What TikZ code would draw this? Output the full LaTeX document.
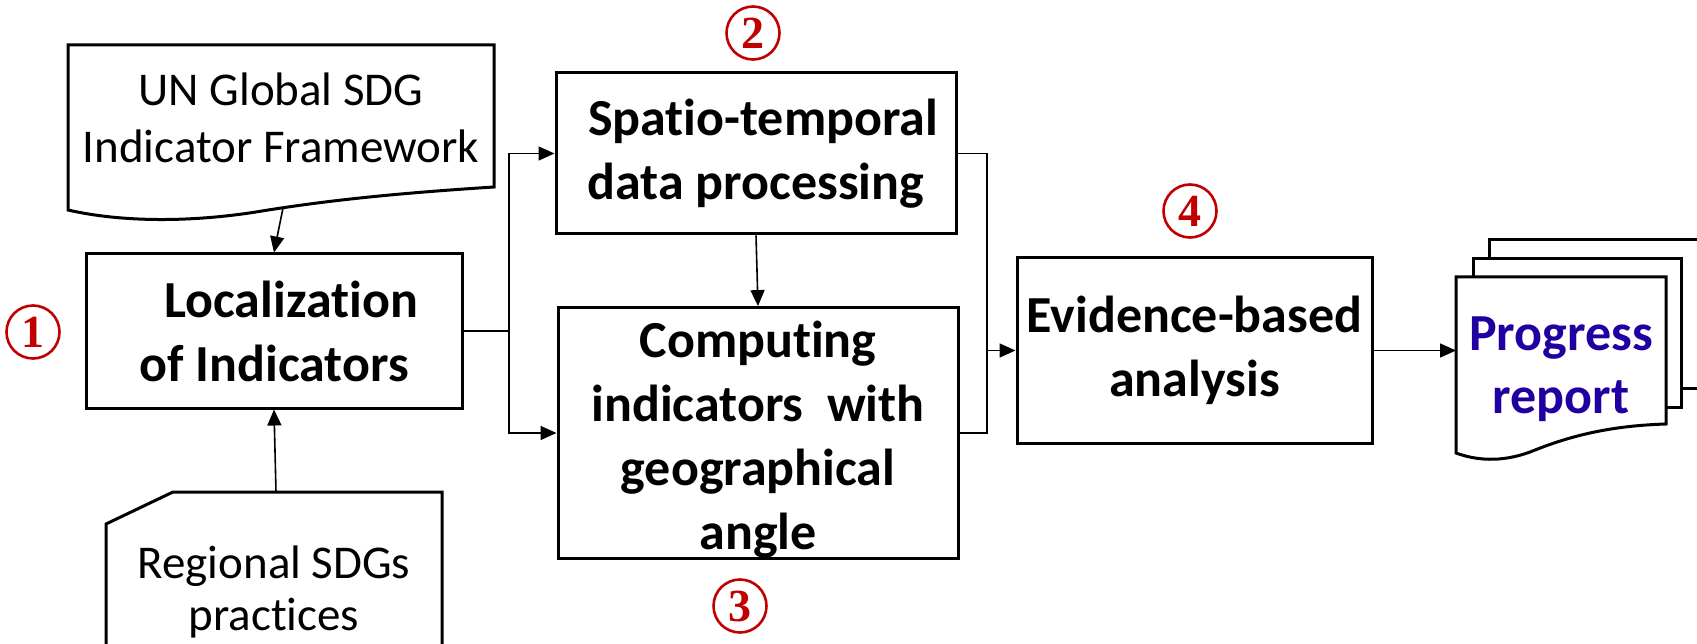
\documentclass[tikz,border=0pt]{standalone}
\usepackage{fontspec}
\setmainfont{Carlito}[Ligatures=NoCommon]
\newfontfamily\numfont{Liberation Serif}
\usetikzlibrary{arrows.meta}
\definecolor{numred}{RGB}{192,0,0}
\definecolor{repblue}{RGB}{32,0,160}

\begin{document}
\begin{tikzpicture}[x=1pt,y=-1pt,
  box/.style={draw, line width=3pt, rectangle, inner sep=0pt, align=center,
    font=\fontsize{52}{64}\selectfont\bfseries},
  outline/.style={draw, line width=3pt, line join=miter, fill=white},
  plain/.style={align=center, inner sep=0pt, font=\fontsize{47}{57}\selectfont},
  wire/.style={line width=1.6pt},
  conn/.style={wire, -{Triangle[length=16pt,width=14pt]}},
  num/.style={circle, draw=numred, line width=2.6pt, minimum size=53pt, inner sep=0pt,
    text=numred, font=\numfont\bfseries\fontsize{46}{46}\selectfont},
]
\useasboundingbox (0,0) rectangle (1697,644);

% ---- source documents ----
\draw[outline] (68,45) -- (494,45) -- (494,187)
  .. controls (400,193) and (330,200) .. (262,211)
  .. controls (190,223) and (120,222) .. (68,210) -- cycle;
\node[plain] (un) at (281,118) {UN Global SDG\\Indicator Framework};
\coordinate (unfoot) at (283,208);

\draw[outline] (106,660) -- (106,524) -- (173,492) -- (442,492) -- (442,660);
\node[plain, font=\fontsize{47}{52}\selectfont] (reg) at (274,592) {Regional SDGs\\practices};
\coordinate (regtop) at (276,492);

% ---- process boxes ----
\node[box, minimum width=376pt, minimum height=154pt] (loc) at (274,331)
  {\hspace*{34pt}Localization\\of Indicators};
\node[box, minimum width=400pt, minimum height=161pt] (sp) at (756,153.5)
  {\hspace*{14pt}Spatio-temporal\\data processing};
\node[box, minimum width=400pt, minimum height=240pt] (comp) at (758,433)
  {Computing\rule{0pt}{50pt}\\indicators\ \ with\\geographical\\angle};
\node[box, minimum width=355pt, minimum height=185pt] (ev) at (1194.5,350.5)
  {Evidence-based\\analysis};

% ---- stacked report documents ----
\draw[outline] (1489,240) -- (1720,240) -- (1720,388) -- (1489,388) -- cycle;
\draw[outline] (1473,259) -- (1681,259) -- (1681,407) -- (1473,407) -- cycle;
\draw[outline] (1456,277) -- (1666,277) -- (1666,424)
  .. controls (1600,426) and (1560,440) .. (1530,452)
  .. controls (1500,463) and (1475,460) .. (1456,453) -- cycle;
\node[box, draw=none, text=repblue, font=\fontsize{52}{63}\selectfont\bfseries]
  (rep) at (1561,369) {Progress\\report};
\coordinate (repin) at (1456,350.5);

% ---- step numbers ----
\node[num] (n1) at (33,332) {1};
\node[num] (n2) at (753,33) {2};
\node[num] (n3) at (740,606) {3};
\node[num] (n4) at (1190,211) {4};

% ---- connectors ----
\coordinate (jl) at (509,331);
\coordinate (jr) at (987,350.5);
\draw[conn] (unfoot) -- (loc.north);
\draw[conn] (regtop) -- (loc.south);
\draw[wire] (loc.east) -- (jl);
\draw[conn] (jl) |- (sp.west);
\draw[conn] (jl) |- (comp.west);
\draw[conn] (sp.south) -- (comp.north);
\draw[wire] (sp.east) -| (jr);
\draw[wire] (comp.east) -| (jr);
\draw[conn] (jr) -- (ev.west);
\draw[conn] (ev.east) -- (repin);
\end{tikzpicture}
\end{document}
